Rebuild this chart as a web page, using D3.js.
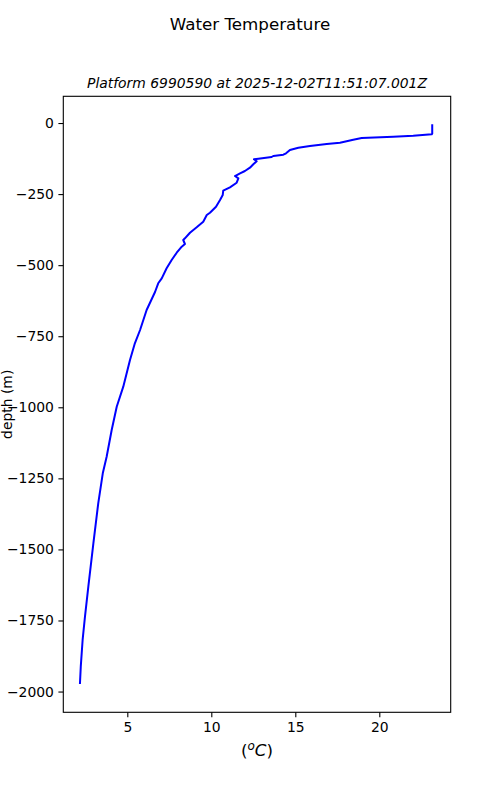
<!DOCTYPE html>
<html>
<head>
<meta charset="utf-8">
<script src="https://cdn.jsdelivr.net/npm/d3@7"></script>
<style>
  body { margin: 0; background: #fff; }
  text { font-family: "DejaVu Sans", sans-serif; fill: #000; }
</style>
</head>
<body>
<script>
// profile: temperature (degC) vs depth (m)
const temperature = [23.15, 23.15, 23.12, 22.02, 20.83, 18.95, 18.45, 17.66, 16.87, 15.87,
  15.18, 14.68, 14.45, 14.29, 13.69, 13.59, 12.8, 12.54, 12.7, 12.5,
  12.3, 12.0, 11.71, 11.41, 11.61, 11.51, 11.11, 10.71, 10.68, 10.52,
  10.28, 9.92, 9.73, 9.52, 9.13, 8.73, 8.43, 8.33, 8.43, 8.24,
  7.94, 7.64, 7.34, 7.05, 6.84, 6.65, 6.15, 5.76, 5.45, 5.16,
  4.76, 4.37, 4.07, 3.77, 3.54, 3.27, 2.98, 2.68, 2.48, 2.34,
  2.23, 2.18]
const depth = [-4.6, -37.6, -39.7, -44.7, -48.2, -52.8, -58.7, -69.3, -73.9, -80.9,
  -86.9, -95, -106.6, -111.5, -116, -119.6, -125.6, -127.7, -134.7, -145.3,
  -157.2, -168.8, -176.9, -186.4, -194.5, -210, -226.2, -238.1, -253.3, -270.8,
  -294.4, -315.5, -323.6, -347.2, -366.9, -385.9, -405.6, -411.5, -425.6, -435.1,
  -456.2, -481.9, -511.1, -546.3, -563.8, -594.4, -657.8, -728.1, -774.9, -833.6,
  -927.5, -997.9, -1079.8, -1173.8, -1232.2, -1337.7, -1478.4, -1631, -1736.5, -1818.5,
  -1912.4, -1973.3]
const xTicks = [5, 10, 15, 20]
const yTicks = [0, -250, -500, -750, -1000, -1250, -1500, -1750, -2000]

const width = 500
const height = 800
const margin = { top: 96.3, right: 49.3, bottom: 87.7, left: 63.3 }

const svg = d3.select('body')
  .append('svg')
  .attr('width', width)
  .attr('height', height)

const x = d3.scaleLinear()
  .domain([1.19, 24.25])
  .range([margin.left, width - margin.right])

const y = d3.scaleLinear()
  .domain([-2073, 94])
  .range([height - margin.bottom, margin.top])

// the profile line
const points = d3.zip(temperature, depth)
svg.append('path')
  .datum(points)
  .attr('fill', 'none')
  .attr('stroke', '#0000ff')
  .attr('stroke-width', 2)
  .attr('stroke-linejoin', 'round')
  .attr('d', d3.line().x(d => x(d[0])).y(d => y(d[1])))

// axes
const xAxis = svg.append('g')
  .attr('transform', `translate(0,${height - margin.bottom})`)
  .call(d3.axisBottom(x).tickValues(xTicks).tickSize(4.9).tickPadding(4.5).tickFormat(d3.format('d')))

const yAxis = svg.append('g')
  .attr('transform', `translate(${margin.left},0)`)
  .call(d3.axisLeft(y).tickValues(yTicks).tickSize(4.9).tickPadding(4.5).tickFormat(d3.format('d')))

for (const ax of [xAxis, yAxis]) {
  ax.select('.domain').remove()
  ax.selectAll('line').attr('stroke', '#000').attr('stroke-width', 1.1)
  ax.selectAll('text').attr('font-size', 13.9).attr('font-family', 'DejaVu Sans')
}

// frame
svg.append('rect')
  .attr('x', margin.left)
  .attr('y', margin.top)
  .attr('width', width - margin.left - margin.right)
  .attr('height', height - margin.top - margin.bottom)
  .attr('fill', 'none')
  .attr('stroke', '#000')
  .attr('stroke-width', 1.1)

const cx = (margin.left + width - margin.right) / 2

// titles
svg.append('text')
  .attr('x', width / 2)
  .attr('y', 30)
  .attr('text-anchor', 'middle')
  .attr('font-size', 16.7)
  .text('Water Temperature')

svg.append('text')
  .attr('x', cx)
  .attr('y', 88)
  .attr('text-anchor', 'middle')
  .attr('font-size', 13.9)
  .attr('font-style', 'italic')
  .text('Platform 6990590 at 2025-12-02T11:51:07.001Z')

// x label (mathtext style)
const xl = svg.append('text')
  .attr('x', cx)
  .attr('y', 756)
  .attr('text-anchor', 'middle')
  .attr('font-size', 16.7)
xl.append('tspan').text('(')
xl.append('tspan').attr('font-style', 'italic').attr('font-size', 12).attr('dy', -6).text('o')
xl.append('tspan').attr('font-style', 'italic').attr('dy', 6).text('C')
xl.append('tspan').text(')')

// y label
svg.append('text')
  .attr('transform', `translate(11.5,${(margin.top + height - margin.bottom) / 2}) rotate(-90)`)
  .attr('text-anchor', 'middle')
  .attr('font-size', 13.9)
  .text('depth (m)')
</script>
</body>
</html>
